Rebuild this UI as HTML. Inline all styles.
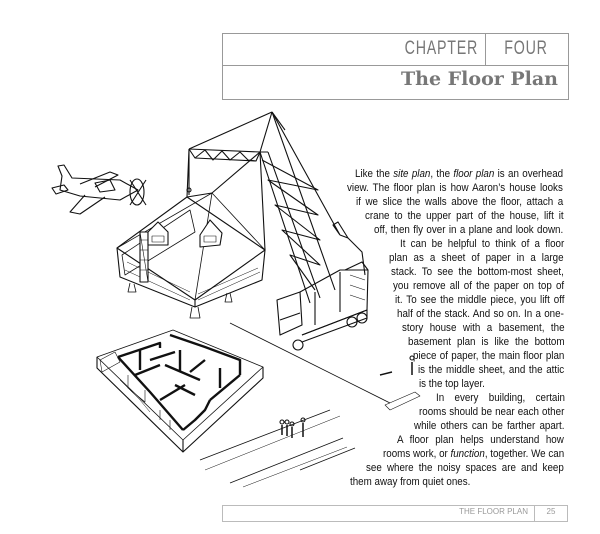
<!DOCTYPE html>
<html><head><meta charset="utf-8"><style>
html,body{margin:0;padding:0;background:#fff;}
body{width:600px;height:534px;position:relative;overflow:hidden;font-family:"Liberation Sans",sans-serif;}
.ln{position:absolute;font-size:11.4px;line-height:14px;height:14px;color:#111;white-space:nowrap;text-align:justify;text-align-last:justify;transform:scaleX(0.86);transform-origin:0 0;}
.l{text-align-last:left;}
.hdr{position:absolute;border:1px solid #999;}
</style></head><body>
<div class="hdr" style="left:222px;top:33px;width:345px;height:65px;"></div>
<div style="position:absolute;left:222px;top:65px;width:346px;height:1px;background:#999"></div>
<div style="position:absolute;left:485px;top:33px;width:1px;height:33px;background:#999"></div>
<div style="position:absolute;left:360px;top:38px;width:118px;font-size:19px;color:#777;letter-spacing:1px;text-align:right;transform:scaleX(0.75);transform-origin:right;">CHAPTER</div>
<div style="position:absolute;left:490px;top:38px;width:72px;font-size:19px;color:#777;letter-spacing:1px;text-align:center;transform:scaleX(0.75);">FOUR</div>
<div style="position:absolute;left:300px;top:68px;width:258px;font-family:'DejaVu Serif','Liberation Serif',serif;font-weight:bold;font-size:19px;color:#777;text-align:right;">The Floor Plan</div>

<div class="hdr" style="left:222px;top:505px;width:344px;height:15px;border-color:#bbb"></div>
<div style="position:absolute;left:534px;top:505px;width:1px;height:16px;background:#bbb"></div>
<div style="position:absolute;left:420px;top:507px;width:108px;font-size:8px;color:#999;text-align:right;">THE FLOOR PLAN</div>
<div style="position:absolute;left:536px;top:507px;width:30px;font-size:8px;color:#999;text-align:center;">25</div>

<div class="ln" style="left:355px;width:242px;top:167px">Like the <i>site plan</i>, the <i>floor plan</i> is an overhead</div>
<div class="ln" style="left:347px;width:251px;top:181px">view. The floor plan is how Aaron’s house looks</div>
<div class="ln" style="left:356px;width:241px;top:195px">if we slice the walls above the floor, attach a</div>
<div class="ln" style="left:365px;width:231px;top:209px">crane to the upper part of the house, lift it</div>
<div class="ln" style="left:374px;width:220px;top:223px">off, then fly over in a plane and look down.</div>
<div class="ln" style="left:400px;width:191px;top:237px">It can be helpful to think of a floor</div>
<div class="ln" style="left:389px;width:203px;top:251px">plan as a sheet of paper in a large</div>
<div class="ln" style="left:391px;width:201px;top:265px">stack. To see the bottom-most sheet,</div>
<div class="ln" style="left:393px;width:199px;top:279px">you remove all of the paper on top of</div>
<div class="ln" style="left:395px;width:197px;top:293px">it. To see the middle piece, you lift off</div>
<div class="ln" style="left:397px;width:194px;top:307px">half of the stack. And so on. In a one-</div>
<div class="ln" style="left:402px;width:189px;top:321px">story house with a basement, the</div>
<div class="ln" style="left:408px;width:182px;top:335px">basement plan is like the bottom</div>
<div class="ln" style="left:413px;width:176px;top:349px">piece of paper, the main floor plan</div>
<div class="ln" style="left:418px;width:170px;top:363px">is the middle sheet, and the attic</div>
<div class="ln l" style="left:419px;width:169px;top:377px">is the top layer.</div>
<div class="ln" style="left:436px;width:150px;top:391px">In every building, certain</div>
<div class="ln" style="left:419px;width:169px;top:405px">rooms should be near each other</div>
<div class="ln" style="left:414px;width:175px;top:419px">while others can be farther apart.</div>
<div class="ln" style="left:397px;width:194px;top:433px">A floor plan helps understand how</div>
<div class="ln" style="left:383px;width:210px;top:447px">rooms work, or <i>function</i>, together. We can</div>
<div class="ln" style="left:366px;width:230px;top:461px">see where the noisy spaces are and keep</div>
<div class="ln l" style="left:350px;width:248px;top:475px">them away from quiet ones.</div>

<svg width="600" height="534" style="position:absolute;left:0;top:0" fill="none" stroke="#111" stroke-width="1.1" stroke-linejoin="round">
<path d="M62 176 L58 166 L64 165 L72 178 L120 180 L138 190 L120 200 L80 196 L60 190 Z"/>
<path d="M80 184 L110 172 L118 175 L95 187"/><path d="M85 195 L70 212 L80 214 L105 197"/>
<path d="M95 183 L110 180 L115 190 L100 192 Z"/>
<ellipse cx="137" cy="192" rx="7" ry="13"/><path d="M130 180 L146 205 M146 180 L130 205"/>
<path d="M52 188 L64 185 L68 190 L56 194 Z"/>
<path d="M272 112 L189 149 M272 112 L260 152 M272 112 L335 290 M272 112 L285 130"/>
<path d="M189 149 L260 152 M189 149 L195 158 L256 161 L260 152"/>
<path d="M195 158 L205 150 L213 160 L222 151 L230 160 L240 152 L248 160 L256 161"/>
<path d="M189 149 L189 195 M260 152 L212 193 M260 152 L265 250 M189 149 L187 197"/>
<circle cx="189" cy="190" r="2"/>
<path d="M260 152 L310 303 M268 152 L320 298 M260 152 L268 152"/>
<path d="M262 160 L318 190 L268 180 L318 215 L275 205 L320 240 L282 230 L320 265 L290 255 L315 290"/>
<path d="M272 112 L340 235 M340 235 L333 225 L338 222 L348 238 L340 235 M348 238 L362 252 L365 275"/>
<path d="M277 300 L300 292 L302 325 L280 335 Z M280 320 L300 313"/>
<path d="M300 292 L340 270 L368 270 L367 310 L302 335"/>
<path d="M315 292 L315 325 M340 272 L340 312 M345 270 L362 262 L368 270"/>
<path d="M302 335 L367 310 L367 318 L302 342"/>
<circle cx="298" cy="345" r="5"/><circle cx="352" cy="322" r="5"/><circle cx="362" cy="318" r="5"/>
<path d="M350 275 L365 280 M350 285 L365 290 M350 295 L365 300" stroke-width="0.6"/>
<path d="M117 248 L187 197 L265 250 L195 300 Z M212 193 L187 197"/>
<path d="M117 248 L212 193 L265 250 M195 300 L212 193" stroke-width="0.8"/>
<path d="M122 255 L190 210 L195 232 L125 275 Z" stroke-width="0.8"/>
<path d="M117 248 L120 277 L195 307 L262 280 L265 250 M195 300 L195 307"/>
<path d="M125 270 L190 300 M127 262 L190 292 M198 300 L260 272 M198 294 L258 268" stroke-width="0.5"/>
<rect x="140" y="232" width="8" height="50" fill="#fff"/><path d="M140 240 L148 240 M140 250 L148 250 M140 260 L148 260 M140 270 L148 270 M140 232 L148 282" stroke-width="0.6"/>
<path d="M148 232 L158 222 L168 232 L168 245 L148 245 Z M200 235 L210 220 L222 233 L220 245 L200 247 Z" fill="#fff"/>
<path d="M152 236 L164 236 L164 242 L152 242 Z M204 236 L216 236 L216 242 L204 242 Z" stroke-width="0.6"/>
<path d="M192 307 L190 318 L200 318 L198 307 M227 293 L225 302 L232 302 L230 293 M130 283 L128 292 L136 292 L134 284" stroke-width="0.8"/>
<path d="M230 323 L390 403 M200 460 L330 410 M230 483 L343 438 M300 470 L355 448" stroke-width="0.8"/>
<path d="M205 470 L340 416 M243 487 L347 447" stroke-width="0.5"/>
<path d="M97 357 L173 330 L263 367 L183 440 Z" stroke-width="0.8"/>
<path d="M97 357 L97 368 L183 452 L263 378 L263 367 M183 440 L183 452"/>
<g stroke-width="2.4">
<path d="M118 357 L160 343 L160 348 M170 335 L205 347 M205 347 L240 360 L240 375 M240 375 L210 400 M210 400 L205 410 L195 420 L183 430 M118 357 L150 392 L183 430"/>
<path d="M140 350 L140 370 M150 360 L175 352 M165 365 L200 380 M180 350 L180 372 M205 360 L190 372 M220 368 L220 388 M175 385 L195 395 M135 375 L160 365 M160 400 L185 385"/>
</g>
<path d="M128 375 L128 388 L145 402 L145 390 M160 410 L160 420 M170 420 L170 430" stroke-width="0.6"/>
<path d="M100 360 L115 352 L120 362 L102 372 Z" stroke-width="0.6"/>
<path d="M120 380 L140 400 L150 412" stroke-width="0.5"/>
<path d="M282 425 L282 435 M287 425 L287 436 M292 427 L292 438 M303 423 L303 437 M412 362 L412 375 M380 375 L392 372" stroke-width="1.5"/>
<circle cx="282" cy="422" r="2"/><circle cx="287" cy="422" r="2"/><circle cx="292" cy="424" r="2"/><circle cx="303" cy="420" r="2"/><circle cx="412" cy="358" r="2"/>
<path d="M385 405 L415 392 L420 396 L390 410 Z" stroke-width="0.6"/>
</svg>
</body></html>
